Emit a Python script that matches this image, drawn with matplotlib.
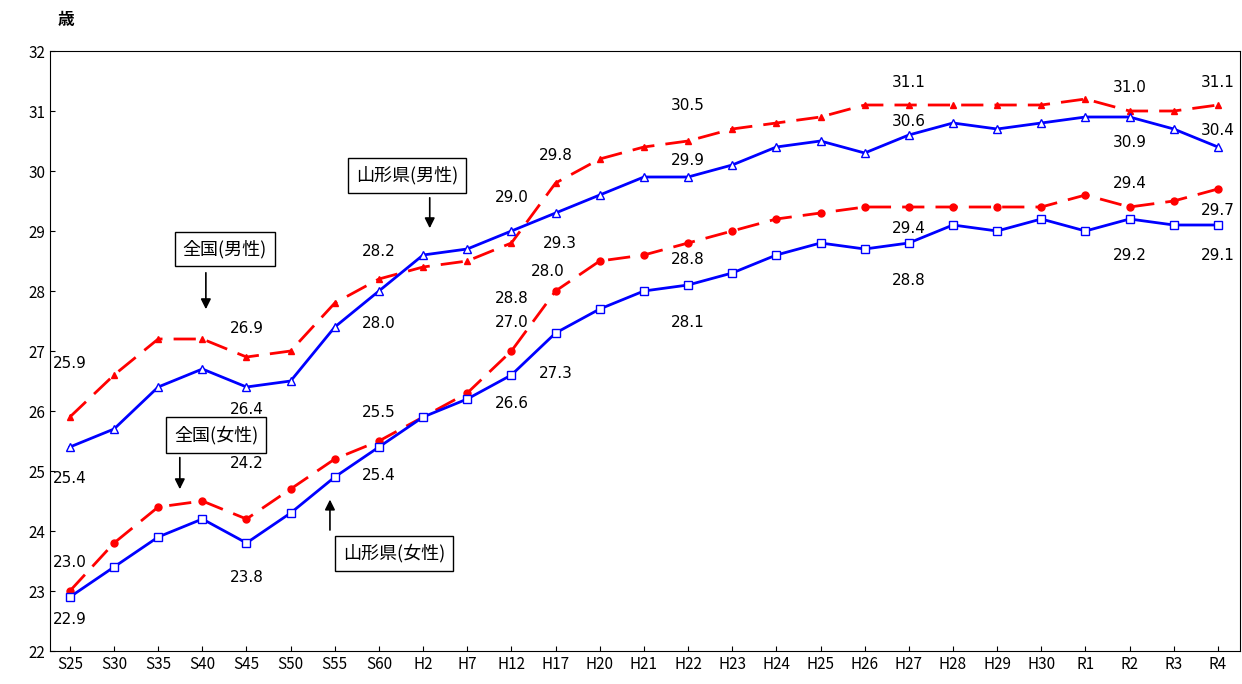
import matplotlib.pyplot as plt

plt.rcParams['font.family'] = ['Noto Sans CJK JP', 'DejaVu Sans']

years = ['S25', 'S30', 'S35', 'S40', 'S45', 'S50', 'S55', 'S60', 'H2', 'H7', 'H12', 'H17',
         'H20', 'H21', 'H22', 'H23', 'H24', 'H25', 'H26', 'H27', 'H28', 'H29', 'H30',
         'R1', 'R2', 'R3', 'R4']
zenkoku_m = [25.9, 26.6, 27.2, 27.2, 26.9, 27.0, 27.8, 28.2, 28.4, 28.5, 28.8, 29.8,
             30.2, 30.4, 30.5, 30.7, 30.8, 30.9, 31.1, 31.1, 31.1, 31.1, 31.1,
             31.2, 31.0, 31.0, 31.1]
yamagata_m = [25.4, 25.7, 26.4, 26.7, 26.4, 26.5, 27.4, 28.0, 28.6, 28.7, 29.0, 29.3,
              29.6, 29.9, 29.9, 30.1, 30.4, 30.5, 30.3, 30.6, 30.8, 30.7, 30.8,
              30.9, 30.9, 30.7, 30.4]
zenkoku_f = [23.0, 23.8, 24.4, 24.5, 24.2, 24.7, 25.2, 25.5, 25.9, 26.3, 27.0, 28.0,
             28.5, 28.6, 28.8, 29.0, 29.2, 29.3, 29.4, 29.4, 29.4, 29.4, 29.4,
             29.6, 29.4, 29.5, 29.7]
yamagata_f = [22.9, 23.4, 23.9, 24.2, 23.8, 24.3, 24.9, 25.4, 25.9, 26.2, 26.6, 27.3,
              27.7, 28.0, 28.1, 28.3, 28.6, 28.8, 28.7, 28.8, 29.1, 29.0, 29.2,
              29.0, 29.2, 29.1, 29.1]

# (series, index, dy offset in value units, dx in index units)
labels = [
    (zenkoku_m, 0, 0.9, 0), (zenkoku_m, 4, 0.47, 0), (zenkoku_m, 7, 0.45, 0),
    (zenkoku_m, 11, 0.45, 0), (zenkoku_m, 14, 0.6, 0), (zenkoku_m, 19, 0.38, 0),
    (zenkoku_m, 24, 0.4, 0), (zenkoku_m, 26, 0.38, 0), (zenkoku_m, 10, -0.92, 0),
    (yamagata_m, 0, -0.52, 0), (yamagata_m, 4, -0.37, 0), (yamagata_m, 7, -0.55, 0),
    (yamagata_m, 10, 0.55, 0), (yamagata_m, 11, -0.5, 0.1), (yamagata_m, 14, 0.27, 0),
    (yamagata_m, 19, 0.22, 0), (yamagata_m, 24, -0.43, 0), (yamagata_m, 26, 0.28, 0),
    (zenkoku_f, 0, 0.47, 0), (zenkoku_f, 4, 0.93, 0), (zenkoku_f, 7, 0.48, 0),
    (zenkoku_f, 10, 0.47, 0), (zenkoku_f, 11, 0.32, -0.17), (zenkoku_f, 14, -0.28, 0),
    (zenkoku_f, 19, -0.35, 0), (zenkoku_f, 24, 0.4, 0), (zenkoku_f, 26, -0.35, 0),
    (yamagata_f, 0, -0.38, 0), (yamagata_f, 4, -0.57, 0), (yamagata_f, 7, -0.48, 0),
    (yamagata_f, 10, -0.48, 0), (yamagata_f, 11, -0.67, 0), (yamagata_f, 14, -0.62, 0),
    (yamagata_f, 19, -0.62, 0), (yamagata_f, 24, -0.6, 0), (yamagata_f, 26, -0.5, 0),
]

fig = plt.figure(figsize=(12.42, 6.84), dpi=100)
ax = fig.add_axes([50 / 1242, 33 / 684, 1190 / 1242, 600 / 684])
x = list(range(len(years)))

ax.plot(x, zenkoku_m, color='red', ls=(0, (8, 4)), lw=2, marker='^', ms=5, mfc='red', mec='red')
ax.plot(x, yamagata_m, color='blue', lw=2, marker='^', ms=6, mfc='white', mec='blue')
ax.plot(x, zenkoku_f, color='red', ls=(0, (8, 4)), lw=2, marker='o', ms=5, mfc='red', mec='red')
ax.plot(x, yamagata_f, color='blue', lw=2, marker='s', ms=6, mfc='white', mec='blue')

for s, i, dy, dx in labels:
    ax.text(i + dx, s[i] + dy, f'{s[i]:.1f}', ha='center', va='center', fontsize=11,
            family=['DejaVu Sans'])

ax.set_xlim(-0.45, 26.5)
ax.set_ylim(22, 32)
ax.set_yticks(range(22, 33))
ax.set_xticks(x)
ax.set_xticklabels(years)
ax.tick_params(labelsize=11, direction='in')
fig.text(58 / 1242, 1 - 20 / 684, '歳', fontsize=12, va='center', fontweight='bold')

# callouts: text, box centre (index, value), arrow index, arrow start/end value
callouts = [
    ('山形県(男性)', 7.63, 29.93, 8.15, 29.6, 29.0),
    ('全国(男性)', 3.51, 28.7, 3.08, 28.35, 27.65),
    ('全国(女性)', 3.31, 25.6, 2.49, 25.27, 24.65),
    ('山形県(女性)', 7.34, 23.63, 5.89, 23.97, 24.57),
]
for txt, bx, by, ax_i, y0, y1 in callouts:
    ax.text(bx, by, txt, ha='center', va='center', fontsize=13,
            bbox=dict(boxstyle='square,pad=0.45', fc='white', ec='black', lw=1))
    ax.annotate('', xy=(ax_i, y1), xytext=(ax_i, y0),
                arrowprops=dict(arrowstyle='-|>', color='black', lw=1.2, mutation_scale=15))

fig.savefig('out.png', dpi=100)
